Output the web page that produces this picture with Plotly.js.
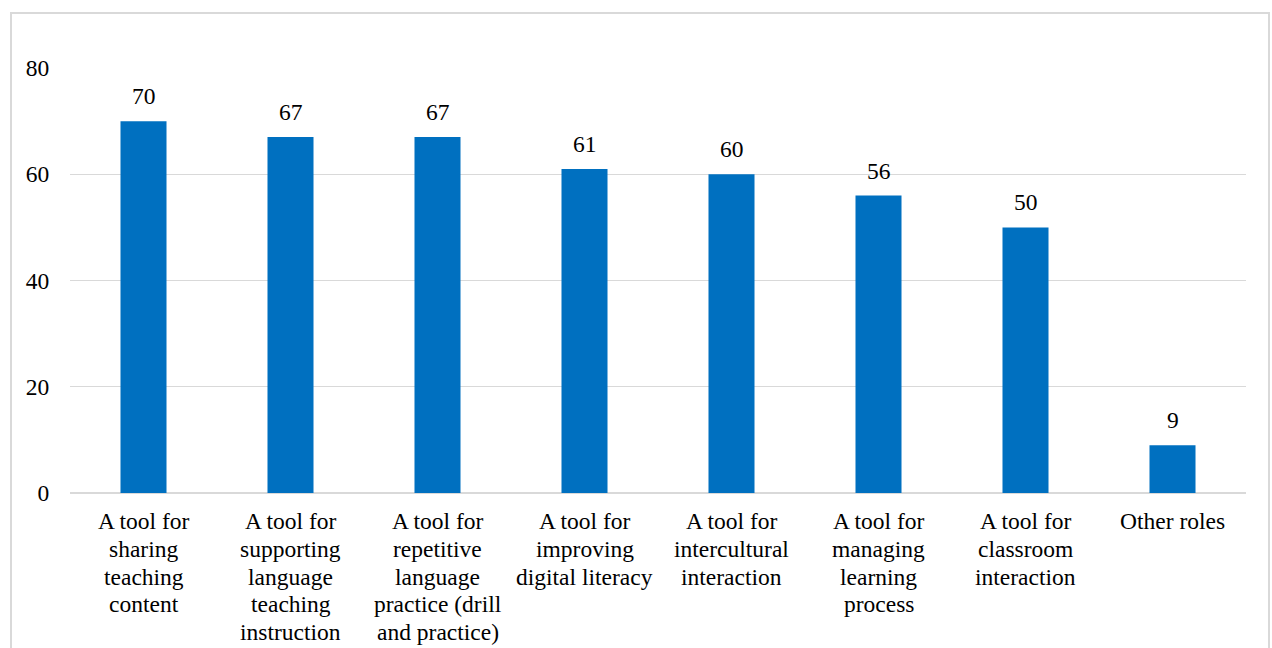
<!DOCTYPE html>
<html>
<head>
<meta charset="utf-8">
<script src="https://cdn.plot.ly/plotly-3.0.1.min.js"></script>
<style>
  html, body { margin: 0; padding: 0; background: #fff; overflow: hidden; }
  #chart { position: absolute; left: 0; top: 0; width: 1272px; height: 648px; }
  #frame { position: absolute; left: 10px; top: 12px; width: 1260px; height: 700px;
           border: 2px solid #d9d9d9; pointer-events: none; box-sizing: border-box; }
</style>
</head>
<body>
<div id="chart"></div>
<div id="frame"></div>
<script>
// Data
const categories = [
  "A tool for sharing teaching content",
  "A tool for supporting language teaching instruction",
  "A tool for repetitive language practice (drill and practice)",
  "A tool for improving digital literacy",
  "A tool for intercultural interaction",
  "A tool for managing learning process",
  "A tool for classroom interaction",
  "Other roles"
];
const values = [70, 67, 67, 61, 60, 56, 50, 9];
const tickLabelLines = [
  ["A tool for", "sharing", "teaching", "content"],
  ["A tool for", "supporting", "language", "teaching", "instruction"],
  ["A tool for", "repetitive", "language", "practice (drill", "and practice)"],
  ["A tool for", "improving", "digital literacy"],
  ["A tool for", "intercultural", "interaction"],
  ["A tool for", "managing", "learning", "process"],
  ["A tool for", "classroom", "interaction"],
  ["Other roles"]
];
const yTicks = [0, 20, 40, 60, 80];

const FONT = "Liberation Serif";
const FS = 23.5;
const annotations = [];

// value labels
categories.forEach((c, i) => {
  annotations.push({
    x: c, y: values[i], xref: 'x', yref: 'y',
    text: String(values[i]), showarrow: false,
    yanchor: 'middle', yshift: 25,
    font: {family: FONT, size: FS, color: '#000'}
  });
});
// category labels (line by line)
categories.forEach((c, i) => {
  tickLabelLines[i].forEach((line, j) => {
    annotations.push({
      x: c, y: 0, xref: 'x', yref: 'y',
      text: line, showarrow: false,
      yanchor: 'middle', yshift: -(28 + 27.75 * j),
      font: {family: FONT, size: FS, color: '#000'}
    });
  });
});

const trace = {
  type: 'bar',
  x: categories,
  y: values,
  marker: {color: '#0070C0'},
  hoverinfo: 'x+y'
};

const layout = {
  width: 1272, height: 648,
  margin: {l: 70, r: 26, t: 68, b: 155},
  paper_bgcolor: '#fff', plot_bgcolor: '#fff',
  bargap: 0.687,
  showlegend: false,
  font: {family: FONT, size: FS, color: '#000'},
  xaxis: {
    showticklabels: false, showgrid: false, zeroline: false,
    showline: false, ticks: ''
  },
  yaxis: {
    range: [0, 80], tickvals: yTicks, ticktext: yTicks.map(String),
    showgrid: true, gridcolor: '#d9d9d9', gridwidth: 1.3,
    zeroline: true, zerolinecolor: '#d9d9d9', zerolinewidth: 1.3,
    showline: false,
    ticks: 'outside', ticklen: 15, tickcolor: 'rgba(0,0,0,0)',
    tickfont: {family: FONT, size: FS, color: '#000'}
  },
  annotations: annotations
};

Plotly.newPlot('chart', [trace], layout, {displayModeBar: false, staticPlot: true});
</script>
</body>
</html>
